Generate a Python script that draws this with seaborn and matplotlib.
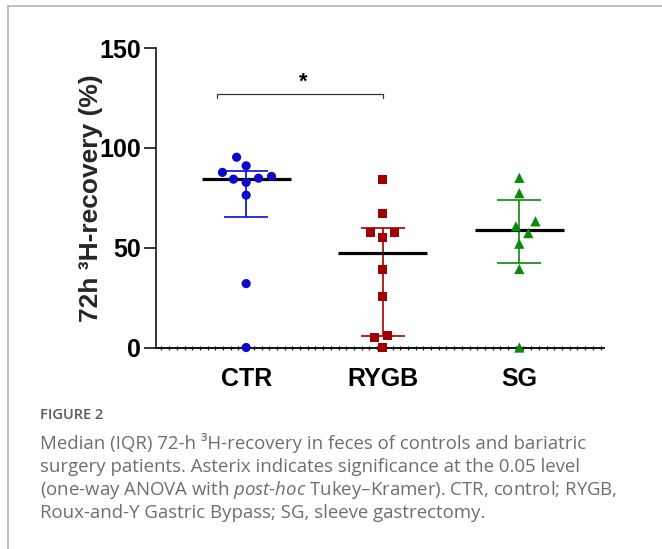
import numpy as np
import pandas as pd
import matplotlib
matplotlib.use("Agg")
import matplotlib.pyplot as plt
from matplotlib.lines import Line2D
from matplotlib.ticker import MultipleLocator
import seaborn as sns

# ---- data ----
categories = ["CTR", "RYGB", "SG"]
ctr_values = [95.3, 91.0, 87.7, 85.7, 84.8, 84.3, 82.7, 76.3, 32.0, 0.0]
rygb_values = [84.0, 67.3, 57.7, 57.7, 55.2, 39.3, 25.3, 6.0, 4.8, 0.0]
sg_values = [85.0, 77.3, 63.2, 60.7, 57.3, 52.0, 39.3, 0.0]
y_ticks = [0, 50, 100, 150]
group_colors = ["#0a0ac8", "#a00000", "#0a8a0a"]
group_markers = ["o", "s", "^"]
group_sizes = [6.6, 6.5, 7.4]
sig_pair = ("CTR", "RYGB")
sig_label = "*"

y_label = "72h \u00b3H-recovery (%)"
caption_title = "FIGURE 2"
caption_lines = [
    "Median (IQR) 72-h \u00b3H-recovery in feces of controls and bariatric",
    "surgery patients. Asterix indicates significance at the 0.05 level",
    "(one-way ANOVA with $\\mathit{post}$-$\\mathit{hoc}$ Tukey\u2013Kramer). CTR, control; RYGB,",
    "Roux-and-Y Gastric Bypass; SG, sleeve gastrectomy.",
]

groups = [ctr_values, rygb_values, sg_values]
df = pd.DataFrame({
    "group": sum([[c] * len(v) for c, v in zip(categories, groups)], []),
    "value": sum([list(v) for v in groups], []),
})

sns.set_style("ticks")
plt.rcParams["font.family"] = ["Liberation Sans", "DejaVu Sans"]
plt.rcParams["mathtext.fontset"] = "custom"
plt.rcParams["mathtext.rm"] = "Open Sans"
plt.rcParams["mathtext.it"] = "Open Sans:italic"

W, H = 662, 549
fig = plt.figure(figsize=(W / 100, H / 100), dpi=100)
ax = fig.add_axes([156 / W, 201.5 / H, 448 / W, 299.5 / H])

# swarm points per group (different marker per group)
for i, cat in enumerate(categories):
    sub = df[df["group"] == cat]
    n_before = len(ax.collections)
    sns.swarmplot(data=sub, x="group", y="value", order=categories,
                  color=group_colors[i], marker=group_markers[i],
                  size=group_sizes[i], linewidth=2.4, ax=ax, zorder=5)
    for coll in ax.collections[n_before:]:
        if len(coll.get_offsets()) == 0:
            coll.set_visible(False)
            continue
        coll.set_clip_on(False)
        coll.set_edgecolor("none")

# median + IQR
for i, cat in enumerate(categories):
    vals = np.array(groups[i])
    q1, med, q3 = np.percentile(vals, [25, 50, 75], method="weibull")
    ax.errorbar(i, med, yerr=[[med - q1], [q3 - med]], fmt="none",
                ecolor=group_colors[i], elinewidth=1.2, capsize=16,
                capthick=1.2, zorder=3, clip_on=False)
    ax.hlines(med, i - 0.325, i + 0.325, color="black", lw=2.3, zorder=4)

# significance bracket
x1 = categories.index(sig_pair[0]) - 0.21
x2 = categories.index(sig_pair[1])
yb = 126.8
ax.plot([x1, x1, x2, x2], [yb - 2, yb, yb, yb - 2], color="#333333", lw=0.9,
        clip_on=False)
ax.text((x1 + x2) / 2 + 0.025, yb + 0.8, sig_label, ha="center", va="bottom",
        fontsize=16, fontweight="bold", color="black")

ax.set_xlim(-0.66, 2.62)
ax.set_ylim(0, 150)
ax.set_yticks(y_ticks)
ax.set_yticklabels([str(t) for t in y_ticks])
ax.set_xlabel("")
ax.set_ylabel(y_label, fontsize=19, fontweight="bold", labelpad=-3)
sns.despine(ax=ax)
ax.spines["left"].set_linewidth(1.1)
ax.spines["bottom"].set_linewidth(1.3)
ax.spines["left"].set_color("black")
ax.spines["bottom"].set_color("black")
ax.tick_params(axis="y", length=9, width=1.1, pad=2, labelsize=18,
               colors="black")
ax.tick_params(axis="x", which="major", length=0, pad=14, labelsize=18,
               colors="black")
ax.xaxis.set_minor_locator(MultipleLocator(0.0564))
ax.tick_params(axis="x", which="minor", direction="inout", length=3.2,
               width=0.9, color="#222222")
for lab in ax.get_xticklabels() + ax.get_yticklabels():
    lab.set_fontweight("bold")

# card border
fig.add_artist(Line2D([7.5 / W, 7.5 / W], [0, 1 - 6 / H], color="#b5b5b5",
                      lw=1.2, transform=fig.transFigure))
fig.add_artist(Line2D([7.5 / W, 1], [1 - 6 / H, 1 - 6 / H], color="#b5b5b5",
                      lw=1.2, transform=fig.transFigure))

# caption
fig.text(40 / W, 1 - 415 / H, caption_title, ha="left", va="center",
         fontsize=10.5, fontweight="semibold", color="#5a5a5a",
         family=["Open Sans", "DejaVu Sans"])
for k, line in enumerate(caption_lines):
    fig.text(40 / W, 1 - (443 + 23.5 * k) / H, line, ha="left", va="center",
             fontsize=13.4, color="#6e6e6e", family=["Open Sans", "DejaVu Sans"])

fig.savefig("out.png", dpi=100)
